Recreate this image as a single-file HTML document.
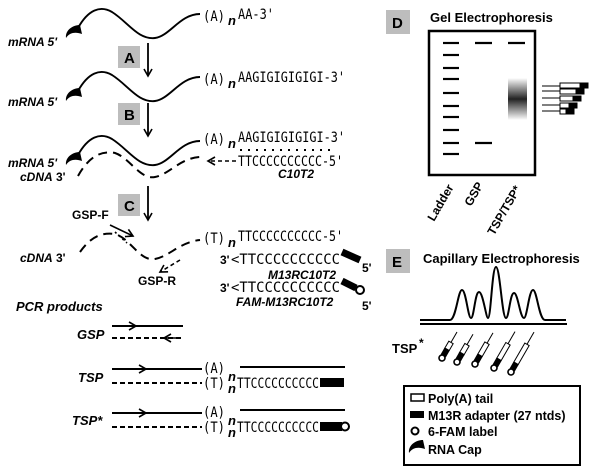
<!DOCTYPE html>
<html><head><meta charset="utf-8"><style>
body{margin:0;background:#fff}
svg{display:block}
.m{font-family:"DejaVu Sans Mono","Liberation Mono",monospace;font-size:14.5px}
.b{font-family:"Liberation Sans",sans-serif;font-weight:bold}
.bi{font-family:"Liberation Sans",sans-serif;font-weight:bold;font-style:italic}
</style></head><body>
<svg width="600" height="471" viewBox="0 0 600 471" xmlns="http://www.w3.org/2000/svg">
<defs>
<marker id="ah" markerWidth="10" markerHeight="10" refX="8" refY="5" orient="auto" markerUnits="userSpaceOnUse"><path d="M1,1 L8,5 L1,9" fill="none" stroke="#000" stroke-width="1.6"/></marker>
<linearGradient id="sm" x1="0" y1="0" x2="0" y2="1"><stop offset="0" stop-color="#fff"/><stop offset="0.5" stop-color="#222"/><stop offset="1" stop-color="#fff"/></linearGradient>
<g id="cap"><path d="M2,-3 C-5,-3 -13,2 -12,10 C-8,4 -2,4 4,6 Z" fill="#000"/></g>
</defs>
<g stroke="#000" fill="none" stroke-width="1.9">
<path d="M78,28 C88,10 100,5 112,12 C128,22 138,40 155,38 C170,36 180,14 200,14"/>
<path d="M78,91 C88,73 100,68 112,75 C128,85 138,103 155,101 C170,99 180,77 200,77"/>
<path d="M78,155 C88,137 100,132 112,139 C128,149 138,167 155,165 C170,163 180,141 200,141"/>
</g>
<use href="#cap" x="78" y="28"/><use href="#cap" x="78" y="91"/><use href="#cap" x="78" y="155"/>
<text class="m" x="203" y="21" textLength="22" lengthAdjust="spacingAndGlyphs">(A)</text><text class="bi" x="228" y="25" font-size="13">n</text><text class="m" x="238" y="19" textLength="36" lengthAdjust="spacingAndGlyphs">AA-3'</text>
<text class="m" x="203" y="84" textLength="22" lengthAdjust="spacingAndGlyphs">(A)</text><text class="bi" x="228" y="88" font-size="13">n</text><text class="m" x="238" y="82" textLength="107" lengthAdjust="spacingAndGlyphs">AAGIGIGIGIGI-3'</text>
<text class="m" x="203" y="144" textLength="22" lengthAdjust="spacingAndGlyphs">(A)</text><text class="bi" x="228" y="148" font-size="13">n</text><text class="m" x="238" y="142" textLength="107" lengthAdjust="spacingAndGlyphs">AAGIGIGIGIGI-3'</text>
<line x1="240" y1="150" x2="330" y2="150" stroke="#000" stroke-width="2" stroke-dasharray="2,6"/>
<text class="m" x="238" y="166" textLength="105" lengthAdjust="spacingAndGlyphs">TTCCCCCCCCCC-5'</text>
<line x1="236" y1="161" x2="208" y2="161" stroke="#000" stroke-width="1.5" stroke-dasharray="4,3" marker-end="url(#ah)"/>
<text class="bi" x="278" y="178" font-size="12">C10T2</text>
<text class="bi" x="8" y="46" font-size="12">mRNA 5'</text>
<text class="bi" x="8" y="106" font-size="12">mRNA 5'</text>
<text class="bi" x="8" y="167" font-size="12">mRNA 5'</text>
<text class="bi" x="20" y="181" font-size="12">cDNA</text><text class="b" x="56" y="181" font-size="12">3'</text>
<path d="M78,176 C88,158 100,150 115,153 C130,158 140,180 155,177 C170,174 180,158 200,157" fill="none" stroke="#000" stroke-width="2" stroke-dasharray="9,6"/>
<rect x="118" y="46" width="22" height="22" fill="#bdbdbd"/><text class="b" x="124" y="63" font-size="15">A</text>
<rect x="118" y="103" width="22" height="22" fill="#bdbdbd"/><text class="b" x="124" y="120" font-size="15">B</text>
<rect x="118" y="194" width="22" height="22" fill="#bdbdbd"/><text class="b" x="124" y="211" font-size="15">C</text>
<g stroke="#000" stroke-width="1.8"><line x1="148" y1="43" x2="148" y2="76" marker-end="url(#ah)"/><line x1="148" y1="103" x2="148" y2="136" marker-end="url(#ah)"/><line x1="148" y1="186" x2="148" y2="220" marker-end="url(#ah)"/></g>
<text class="b" x="72" y="219" font-size="12">GSP-F</text>
<path d="M80,252 C90,238 100,232 115,234 C130,238 140,262 155,259 C170,256 180,242 200,240" fill="none" stroke="#000" stroke-width="2" stroke-dasharray="9,6"/>
<line x1="110" y1="225" x2="133" y2="236" stroke="#000" stroke-width="1.6" marker-end="url(#ah)"/>
<line x1="115" y1="232" x2="127" y2="243" stroke="#000" stroke-width="1.6" stroke-dasharray="2,3"/>
<line x1="180" y1="260" x2="160" y2="272" stroke="#000" stroke-width="1.6" stroke-dasharray="4,3" marker-end="url(#ah)"/>
<text class="b" x="138" y="285" font-size="12">GSP-R</text>
<text class="bi" x="20" y="262" font-size="12">cDNA</text><text class="b" x="56" y="262" font-size="12">3'</text>
<text class="m" x="203" y="243" textLength="22" lengthAdjust="spacingAndGlyphs">(T)</text><text class="bi" x="228" y="247" font-size="13">n</text><text class="m" x="238" y="241" textLength="105" lengthAdjust="spacingAndGlyphs">TTCCCCCCCCCC-5'</text>
<text class="b" x="220" y="264" font-size="12">3'</text><text class="m" x="231" y="264" textLength="109" lengthAdjust="spacingAndGlyphs">&lt;TTCCCCCCCCCC</text>
<line x1="342" y1="252" x2="360" y2="260" stroke="#000" stroke-width="7"/>
<text class="b" x="362" y="272" font-size="12">5'</text>
<text class="bi" x="268" y="279" font-size="12">M13RC10T2</text>
<text class="b" x="220" y="292" font-size="12">3'</text><text class="m" x="231" y="292" textLength="109" lengthAdjust="spacingAndGlyphs">&lt;TTCCCCCCCCCC</text>
<line x1="342" y1="281" x2="356" y2="288" stroke="#000" stroke-width="7"/>
<circle cx="360" cy="290" r="4" fill="#fff" stroke="#000" stroke-width="2"/>
<text class="b" x="362" y="310" font-size="12">5'</text>
<text class="bi" x="236" y="306" font-size="12">FAM-M13RC10T2</text>
<text class="bi" x="16" y="311" font-size="13">PCR products</text>
<text class="bi" x="77" y="339" font-size="13">GSP</text>
<line x1="112" y1="326" x2="183" y2="326" stroke="#000" stroke-width="2"/><line x1="112" y1="326" x2="136" y2="326" stroke="#000" stroke-width="1.5" marker-end="url(#ah)"/>
<line x1="112" y1="338" x2="183" y2="338" stroke="#000" stroke-width="2" stroke-dasharray="5,3"/><line x1="180" y1="338" x2="164" y2="338" stroke="#000" stroke-width="1.5" marker-end="url(#ah)"/>
<text class="bi" x="78" y="382" font-size="13">TSP</text>
<line x1="112" y1="369" x2="202" y2="369" stroke="#000" stroke-width="2"/><line x1="112" y1="369" x2="146" y2="369" stroke="#000" stroke-width="1.5" marker-end="url(#ah)"/>
<text class="m" x="203" y="373" textLength="22" lengthAdjust="spacingAndGlyphs">(A)</text><text class="bi" x="228" y="381" font-size="13">n</text>
<line x1="240" y1="367" x2="345" y2="367" stroke="#000" stroke-width="2"/>
<line x1="112" y1="383" x2="202" y2="383" stroke="#000" stroke-width="2" stroke-dasharray="5,3"/>
<text class="m" x="203" y="388" textLength="22" lengthAdjust="spacingAndGlyphs">(T)</text><text class="bi" x="228" y="393" font-size="13">n</text><text class="m" x="237" y="388" textLength="82" lengthAdjust="spacingAndGlyphs">TTCCCCCCCCCC</text>
<rect x="320" y="378" width="24" height="9" fill="#000"/>
<text class="bi" x="72" y="425" font-size="13">TSP*</text>
<line x1="112" y1="413" x2="202" y2="413" stroke="#000" stroke-width="2"/><line x1="112" y1="413" x2="146" y2="413" stroke="#000" stroke-width="1.5" marker-end="url(#ah)"/>
<text class="m" x="203" y="417" textLength="22" lengthAdjust="spacingAndGlyphs">(A)</text><text class="bi" x="228" y="425" font-size="13">n</text>
<line x1="240" y1="410" x2="345" y2="410" stroke="#000" stroke-width="2"/>
<line x1="112" y1="427" x2="202" y2="427" stroke="#000" stroke-width="2" stroke-dasharray="5,3"/>
<text class="m" x="203" y="432" textLength="22" lengthAdjust="spacingAndGlyphs">(T)</text><text class="bi" x="228" y="437" font-size="13">n</text><text class="m" x="237" y="432" textLength="82" lengthAdjust="spacingAndGlyphs">TTCCCCCCCCCC</text>
<rect x="320" y="422" width="22" height="9" fill="#000"/><circle cx="345" cy="426.5" r="4" fill="#fff" stroke="#000" stroke-width="2"/>
<rect x="386" y="10" width="24" height="24" fill="#bdbdbd"/><text class="b" x="392" y="28" font-size="15">D</text>
<text class="b" x="430" y="22" font-size="13">Gel Electrophoresis</text>
<rect x="429" y="31" width="106" height="144" fill="#fff" stroke="#000" stroke-width="2.5"/>
<rect x="508" y="78" width="19" height="42" fill="url(#sm)"/>
<g stroke="#000" stroke-width="2.2">
<line x1="443" y1="43" x2="459" y2="43"/><line x1="443" y1="55" x2="459" y2="55"/><line x1="443" y1="68" x2="459" y2="68"/><line x1="443" y1="79" x2="459" y2="79"/><line x1="443" y1="93" x2="459" y2="93"/><line x1="443" y1="106" x2="459" y2="106"/><line x1="443" y1="117" x2="459" y2="117"/><line x1="443" y1="130" x2="459" y2="130"/><line x1="443" y1="143" x2="459" y2="143"/><line x1="443" y1="154" x2="459" y2="154"/>
<line x1="475" y1="43" x2="492" y2="43"/><line x1="475" y1="143" x2="492" y2="143"/><line x1="508" y1="43" x2="525" y2="43"/>
</g>
<g stroke="#000" stroke-width="1" fill="#fff">
<line x1="542" y1="86" x2="560" y2="86"/><rect x="560" y="83" width="22" height="5"/><rect x="580" y="83" width="8" height="5" fill="#000"/>
<line x1="542" y1="91" x2="560" y2="91"/><rect x="560" y="89" width="18" height="5"/><rect x="576" y="89" width="8" height="5" fill="#000"/>
<line x1="542" y1="98" x2="560" y2="98"/><rect x="560" y="96" width="15" height="5"/><rect x="573" y="96" width="8" height="5" fill="#000"/>
<line x1="542" y1="105" x2="560" y2="105"/><rect x="560" y="103" width="11" height="5"/><rect x="569" y="103" width="8" height="5" fill="#000"/>
<line x1="542" y1="111" x2="560" y2="111"/><rect x="560" y="109" width="7" height="5"/><rect x="566" y="109" width="8" height="5" fill="#000"/>
</g>
<g class="b" font-size="12">
<text transform="translate(434,222) rotate(-60)">Ladder</text>
<text transform="translate(471,207) rotate(-60)">GSP</text>
<text transform="translate(494,236) rotate(-60)">TSP/TSP*</text>
</g>
<rect x="386" y="249" width="24" height="24" fill="#bdbdbd"/><text class="b" x="392" y="267" font-size="15">E</text>
<text class="b" x="423" y="263" font-size="13">Capillary Electrophoresis</text>
<path d="M420,320 L450,320 C456,320 458,290 462,290 C466,290 468,318 471,318 C474,318 475,292 479,292 C483,292 486,318 488,318 C491,318 492,267 496,267 C500,267 502,318 506,318 C509,318 510,293 514,293 C518,293 520,318 524,318 C527,318 529,290 533,290 C537,290 539,320 545,320 L566,320" fill="none" stroke="#000" stroke-width="2"/>
<line x1="420" y1="324" x2="567" y2="324" stroke="#000" stroke-width="2"/>
<text class="b" x="392" y="353" font-size="13">TSP</text><text class="b" x="419" y="347" font-size="12">*</text>
<g stroke="#000" stroke-width="1" fill="#fff">
<g transform="translate(442,358) rotate(30)"><line x1="0" y1="-30" x2="0" y2="-18"/><rect x="-2.5" y="-18" width="5" height="8"/><rect x="-2.5" y="-10" width="5" height="7" fill="#000"/><circle cx="0" cy="0" r="3" stroke-width="1.6"/></g>
<g transform="translate(457,362) rotate(30)"><line x1="0" y1="-32" x2="0" y2="-20"/><rect x="-2.5" y="-20" width="5" height="11"/><rect x="-2.5" y="-10" width="5" height="7" fill="#000"/><circle cx="0" cy="0" r="3" stroke-width="1.6"/></g>
<g transform="translate(475,364) rotate(30)"><line x1="0" y1="-36" x2="0" y2="-24"/><rect x="-2.5" y="-24" width="5" height="14"/><rect x="-2.5" y="-10" width="5" height="7" fill="#000"/><circle cx="0" cy="0" r="3" stroke-width="1.6"/></g>
<g transform="translate(494,368) rotate(30)"><line x1="0" y1="-42" x2="0" y2="-28"/><rect x="-2.5" y="-28" width="5" height="18"/><rect x="-2.5" y="-10" width="5" height="7" fill="#000"/><circle cx="0" cy="0" r="3" stroke-width="1.6"/></g>
<g transform="translate(511,372) rotate(30)"><line x1="0" y1="-46" x2="0" y2="-32"/><rect x="-2.5" y="-32" width="5" height="22"/><rect x="-2.5" y="-10" width="5" height="7" fill="#000"/><circle cx="0" cy="0" r="3" stroke-width="1.6"/></g>
</g>
<rect x="404" y="386" width="176" height="79" fill="#fff" stroke="#000" stroke-width="2"/>
<rect x="411" y="394" width="13" height="7" fill="#fff" stroke="#000" stroke-width="1.5"/><text class="b" x="428" y="403" font-size="12.5">Poly(A) tail</text>
<rect x="410" y="411" width="14" height="7" fill="#000"/><text class="b" x="428" y="420" font-size="12.5">M13R adapter (27 ntds)</text>
<circle cx="415" cy="431" r="3.5" fill="#fff" stroke="#000" stroke-width="2"/><text class="b" x="428" y="436" font-size="12.5">6-FAM label</text>
<use href="#cap" x="421" y="443"/><text class="b" x="428" y="454" font-size="12.5">RNA Cap</text>
</svg>
</body></html>
